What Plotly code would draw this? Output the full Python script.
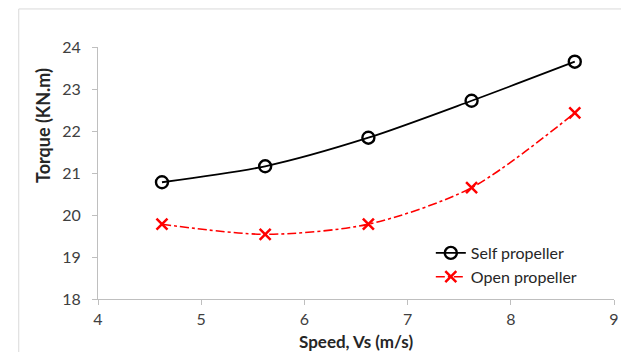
import plotly.graph_objects as go

speed = [4.62, 5.62, 6.62, 7.62, 8.62]
self_torque = [20.78, 21.16, 21.84, 22.72, 23.65]
open_torque = [19.78, 19.54, 19.78, 20.65, 22.43]
x_ticks = [4, 5, 6, 7, 8, 9]
y_ticks = [18, 19, 20, 21, 22, 23, 24]

FONT = "Lato"

fig = go.Figure()
fig.add_trace(go.Scatter(
    x=speed, y=self_torque, name="Self propeller", mode="lines+markers",
    line=dict(color="black", width=1.8, shape="spline", smoothing=0.8),
    marker=dict(symbol="circle-open", size=12, color="black", line=dict(width=2.4)),
))
fig.add_trace(go.Scatter(
    x=speed, y=open_torque, name="Open propeller", mode="lines+markers",
    line=dict(color="#FF0000", width=1.6, dash="dashdot", shape="spline", smoothing=0.8),
    marker=dict(symbol="x-thin-open", size=11, color="#FF0000", line=dict(width=2.5, color="#FF0000")),
))

axis_common = dict(showgrid=False, zeroline=False, showline=True, linecolor="#BFBFBF",
                   linewidth=1, ticks="outside", tickcolor="#BFBFBF", ticklen=5,
                   tickfont=dict(family=FONT, size=16, color="#404040"))
fig.update_xaxes(range=[4, 9], tickvals=x_ticks, ticklabelstandoff=1, **axis_common)
fig.update_yaxes(range=[18, 24], tickvals=y_ticks, ticklabelstandoff=8, **axis_common)

fig.add_annotation(text="<b>Torque (KN.m)</b>", xref="paper", yref="paper", x=-0.107, y=0.69,
                   textangle=-90, showarrow=False, xanchor="center", yanchor="middle",
                   font=dict(family=FONT, size=18, color="#262626"))
fig.add_annotation(text="<b>Speed, Vs (m/s)</b>", xref="paper", yref="paper", x=0.5, y=-0.170,
                   showarrow=False, xanchor="center", yanchor="middle",
                   font=dict(family=FONT, size=17, color="#262626"))

fig.add_shape(type="rect", xref="paper", yref="paper", x0=-0.1536, y0=-0.4, x1=1.1, y1=1.151,
              line=dict(color="#D9D9D9", width=1), layer="below")

fig.update_layout(
    width=621, height=344, margin=dict(l=90, r=10, t=39, b=53),
    paper_bgcolor="white", plot_bgcolor="white",
    legend=dict(x=0.645, y=0.25, xanchor="left", yanchor="top", bgcolor="rgba(0,0,0,0)",
                font=dict(family=FONT, size=16, color="#262626"), tracegroupgap=0,
                itemwidth=30),
)

fig.write_html("out.html")
